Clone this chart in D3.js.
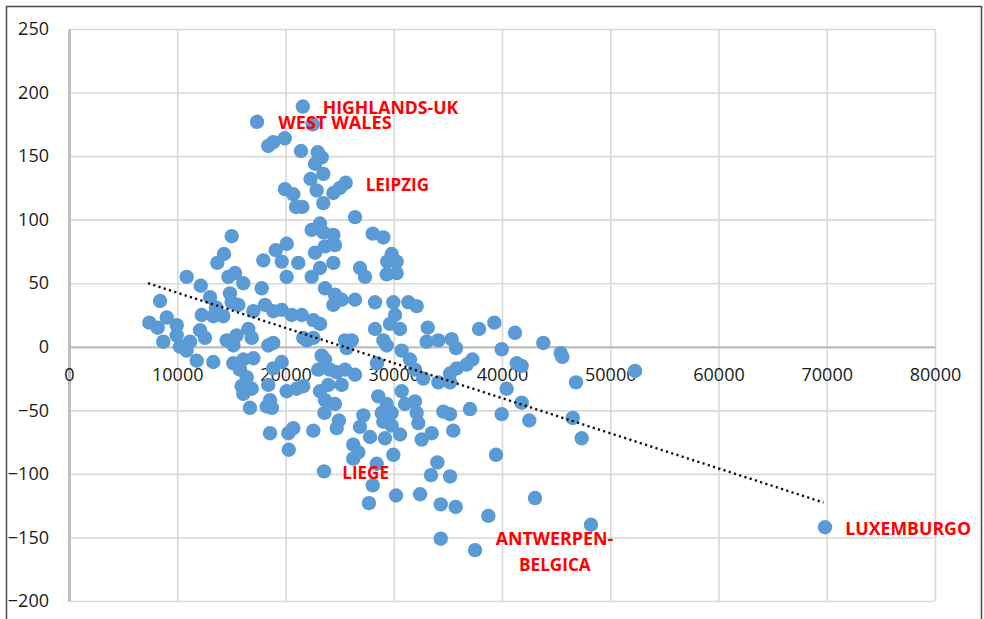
<!DOCTYPE html>
<html>
<head>
<meta charset="utf-8">
<script src="https://cdn.jsdelivr.net/npm/d3@7"></script>
<style>
  html, body { margin: 0; padding: 0; background: #fff; }
  svg { display: block; }
</style>
</head>
<body>
<svg id="chart" width="984" height="619"></svg>
<script>
// ---------- data ----------
const xValues = [
  21600,17370,22510,18410,18870,19930,21430,22980,23340,22730,23490,22310,22880,19950,20720,20970,21550,25560,25030,24420,
  23490,26420,23190,22420,23490,24420,24570,23650,22730,24420,23190,22420,28060,29040,29810,29400,30270,29350,30270,26880,
  27350,15030,14320,13700,19100,20110,17950,19650,21180,
  10870,12170,8410,7420,8190,9030,9950,9950,8710,10250,10870,11180,12100,12560,12260,13030,11800,13330,14720,15340,
  16100,14870,15030,15640,13330,14250,14570,15180,15490,16560,16880,17800,18110,17030,18870,19650,18410,18870,20110,21500,
  21960,20570,23650,24570,25190,24420,26420,28270,29960,31350,32120,30120,29650,28270,30580,29040,29350,30730,22570,23190,
  21640,22570,25500,26120,25650,13580,
  33140,33040,34120,35350,35750,37880,39290,41200,39970,43820,45420,45570,46840,52290,
  15180,16100,17030,15800,16420,15950,16100,16880,16720,18260,18570,18410,18870,19650,20110,21030,21640,18750,18570,20260,
  20720,20300,22570,23600,23560,23340,23650,23030,24110,24730,25500,26420,25190,23950,23190,23650,24570,24940,24730,30730,
  31040,28450,
  27190,26880,28890,29810,29040,29810,30580,27810,29190,26260,26730,26260,28430,29960,31960,32120,32270,32580,33510,34580,
  35200,35500,37040,28570,29350,
  31960,32730,34120,35200,35200,35820,36740,37270,40430,41360,41820,41820,42520,39970,34030,33440,35200,39450,46530,47360,
  48220,43050,38740,34340,35720,32430,30210,28060,27710,34340,37510,69840,31500
];
const yValues = [
  189,177,175,158,161,164,154,153,149,144,136,132,123,124,120,110,110,129,125,121,
  113,102,97,92,90,88,80,79,74,66,62,55,89,86,73,67,67,57,58,62,
  55,87,73,66,76,81,68,67,66,
  55,48,36,19,15,23,17,9,4,0,-3,4,13,7,25,39,-11,-12,55,58,
  50,42,35,33,24,24,5,1,9,14,7,46,33,28,28,29,1,3,55,25,
  5,25,46,41,37,33,37,35,35,35,32,25,18,14,14,5,1,-3,21,18,
  7,7,5,5,-1,31,
  15,4,5,6,-1,14,19,11,-2,3,-5,-8,-28,-19,
  -13,-10,-9,-18,-24,-31,-37,-33,-48,-47,-42,-30,-17,-12,-35,-33,-31,-48,-68,-68,
  -64,-81,-66,-52,-98,-7,-10,-18,-18,-20,-18,-22,-30,-30,-35,-42,-45,-58,-64,-35,
  -45,-13,
  -54,-63,-52,-52,-59,-62,-69,-71,-72,-77,-83,-88,-92,-85,-43,-52,-60,-73,-68,-51,
  -53,-66,-49,-39,-45,
  -18,-25,-28,-28,-21,-17,-14,-10,-33,-13,-15,-44,-58,-53,-91,-101,-102,-85,-56,-72,
  -140,-119,-133,-124,-126,-116,-117,-109,-123,-151,-160,-142,-10
];
const trendX = [7300, 69700];
const trendY = [50, -122.5];
const xTicks = [0,10000,20000,30000,40000,50000,60000,70000,80000];
const yTicks = [250,200,150,100,50,0,-50,-100,-150,-200];
const labelNames = ["HIGHLANDS-UK","WEST WALES","LEIPZIG","LIEGE","ANTWERPEN-","BELGICA","LUXEMBURGO"];
const labelX = [23437,19335,27409,25247,39419,41571,71715];
const labelY = [182.8,171.0,122.5,-104.1,-156.0,-176.2,-148.1];
const labelWidths = [135.6,113.4,63.3,46.7,117.6,71.7,125.7];

(function () {
  const svg = d3.select("#chart");
  const pL = 69, pR = 935, pT = 29, pB = 601;
  const x = d3.scaleLinear().domain([0, 80000]).range([pL, pR]);
  const y = d3.scaleLinear().domain([-200, 250]).range([pB, pT]);

  // outer frame
  svg.append("rect")
    .attr("x", 6.5).attr("y", 6.5).attr("width", 975).attr("height", 640)
    .attr("fill", "#fff").attr("stroke", "#4a4a4a").attr("stroke-width", 1.5);

  // gridlines
  svg.append("g").attr("transform", `translate(${pL},0)`)
    .call(d3.axisLeft(y).tickValues(yTicks).tickSize(-(pR - pL)).tickFormat(""))
    .call(g => g.select(".domain").remove())
    .call(g => g.selectAll("line").attr("stroke", "#d9d9d9").attr("stroke-width", 1.6));
  svg.append("g").attr("transform", `translate(0,${pB})`)
    .call(d3.axisBottom(x).tickValues(xTicks.slice(1)).tickSize(-(pB - pT)).tickFormat(""))
    .call(g => g.select(".domain").remove())
    .call(g => g.selectAll("line").attr("stroke", "#d9d9d9").attr("stroke-width", 1.6));

  // y axis
  const yAxis = svg.append("g").attr("transform", `translate(${pL},0)`)
    .call(d3.axisLeft(y).tickValues(yTicks).tickSize(0).tickSizeOuter(0).tickPadding(20).tickFormat(d3.format("d")));
  yAxis.select(".domain").attr("stroke", "#bfbfbf").attr("stroke-width", 3);
  yAxis.selectAll("text").attr("font-family", "'Open Sans', sans-serif").attr("font-size", 18).attr("fill", "#1a1a1a");

  // x axis at y=0
  const xAxis = svg.append("g").attr("transform", `translate(0,${y(0)})`)
    .call(d3.axisBottom(x).tickValues(xTicks).tickSize(0).tickSizeOuter(0).tickPadding(21.5).tickFormat(d3.format("d")));
  xAxis.select(".domain").attr("stroke", "#bfbfbf").attr("stroke-width", 2.2);
  xAxis.selectAll("text").attr("font-family", "'Open Sans', sans-serif").attr("font-size", 18).attr("fill", "#1a1a1a");

  // points
  const pts = xValues.map((v, i) => ({x: v, y: yValues[i]}));
  svg.append("g").selectAll("circle").data(pts).join("circle")
    .attr("cx", d => x(d.x)).attr("cy", d => y(d.y)).attr("r", 7.2)
    .attr("fill", "#5b9bd5");

  // trend line
  svg.append("path")
    .datum(trendX.map((v, i) => [v, trendY[i]]))
    .attr("d", d3.line().x(d => x(d[0])).y(d => y(d[1])))
    .attr("fill", "none").attr("stroke", "#111").attr("stroke-width", 2.4)
    .attr("stroke-dasharray", "2.2 3.3");

  // labels
  svg.append("g").selectAll("text").data(labelNames).join("text")
    .attr("x", (d, i) => x(labelX[i])).attr("y", (d, i) => y(labelY[i]))
    .attr("font-family", "'Open Sans', sans-serif").attr("font-weight", "bold")
    .attr("font-size", 17.5).attr("fill", "#ff0000")
    .attr("textLength", (d, i) => labelWidths[i]).attr("lengthAdjust", "spacingAndGlyphs")
    .text(d => d);
})();
</script>
</body>
</html>
